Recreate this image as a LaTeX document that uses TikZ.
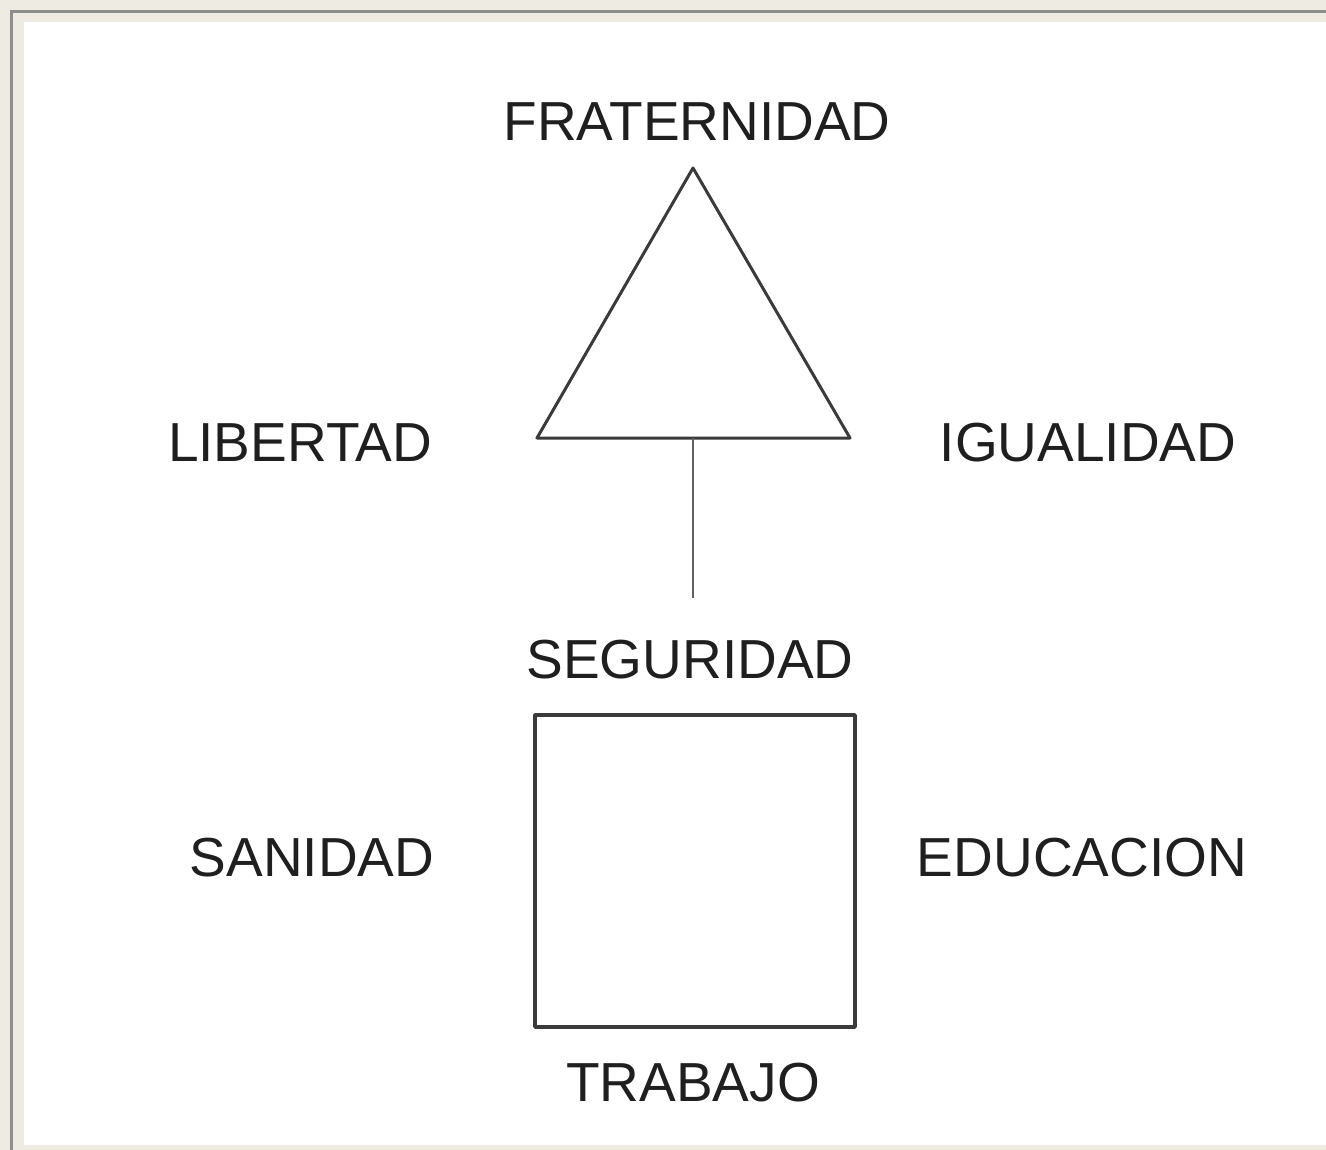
\documentclass[tikz,border=0pt]{standalone}
\usepackage{fontspec}
\setmainfont{Liberation Sans}
\usepackage{tikz}
\usetikzlibrary{calc}
\definecolor{marco}{HTML}{EEEBE3}
\definecolor{filete}{HTML}{8E8E8E}
\definecolor{trazo}{HTML}{3A3A3A}
\tikzset{%
        x = 1pt,
        y = -1pt,
        word/.style = {text = black!88, font = \fontsize{55}{60}\selectfont, inner sep = 0pt},
        shape line/.style = {draw = trazo, line width = 3pt, line join = round}
}

\begin{document}
\begin{tikzpicture}
            \useasboundingbox (0,0) rectangle (1326,1150);
            \fill[marco] (0,0) rectangle (1326,1150);
            \fill[filete] (10,10) rectangle (1326,13);
            \fill[filete] (10,10) rectangle (13,1150);
            \fill[white] (24,22) rectangle (1326,1145);
            % triangle
            \coordinate (apex) at (693,168);
            \coordinate (bl) at (537,438);
            \coordinate (br) at (850,438);
            \coordinate (mid) at (693,438);
            \coordinate (stem) at (693,598);
            \draw[shape line] (apex) -- (br) -- (bl) -- cycle;
            \draw[shape line, draw = trazo!80, line width = 2.6pt] (mid) -- (stem);
            % square
            \coordinate (sq1) at (535,715);
            \coordinate (sq2) at (855,1027);
            \draw[shape line, line width = 3.6pt] (sq1) rectangle (sq2);
            % labels
            \node[word] (frat) at (697,122) {FRATERNIDAD};
            \node[word] (lib) at (300,443) {LIBERTAD};
            \node[word] (igu) at (1088,443) {IGUALIDAD};
            \node[word] (seg) at (690,660) {SEGURIDAD};
            \node[word] (san) at (312,858) {SANIDAD};
            \node[word] (edu) at (1082,858) {EDUCACION};
            \node[word] (trab) at (693,1083) {TRABAJO};
        \end{tikzpicture}
\end{document}
